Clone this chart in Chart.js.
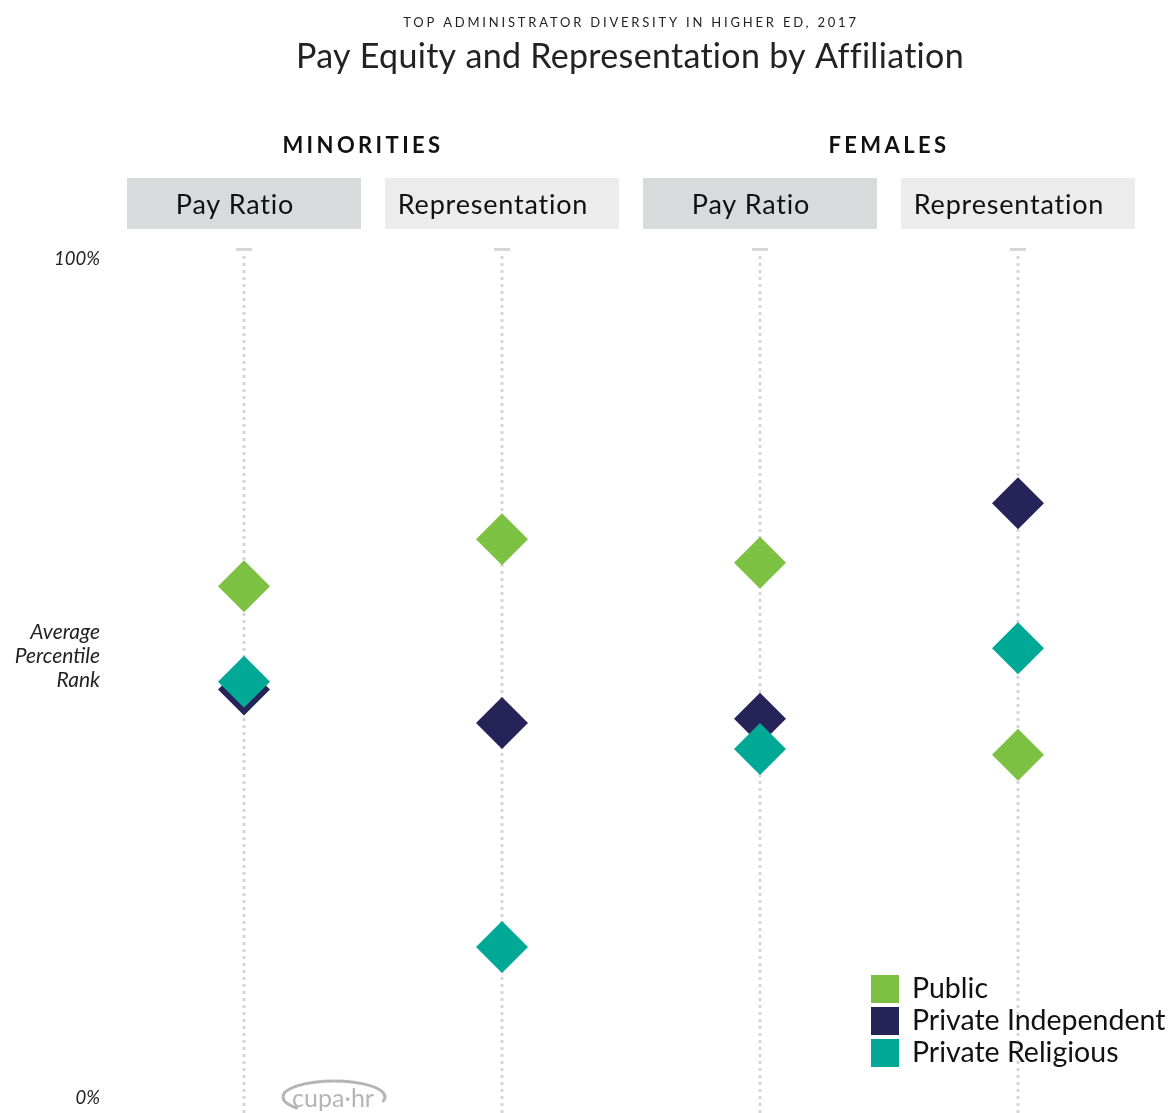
<!DOCTYPE html>
<html>
<head>
<meta charset="utf-8">
<script src="https://cdn.jsdelivr.net/npm/chart.js@4.4.1/dist/chart.umd.min.js"></script>
<style>
  html, body { margin: 0; padding: 0; background: #fff; }
  #wrap { width: 1171px; height: 1113px; position: relative; }
</style>
</head>
<body>
<div id="wrap"><canvas id="chart" width="1171" height="1113"></canvas></div>
<script>
// chart values
const groups = ["MINORITIES", "FEMALES"];
const categories = ["Pay Ratio", "Representation", "Pay Ratio", "Representation"];
const seriesNames = ["Public", "Private Independent", "Private Religious"];
const publicValues = [61.0, 66.6, 63.8, 40.9];
const independentValues = [48.7, 44.7, 45.2, 70.9];
const religiousValues = [49.6, 18.0, 41.6, 53.6];
const yTicks = [0, 100];

const colors = ["#7dc142", "#262359", "#00a896"];
const boxColors = ["#d9dadc", "#ececec"];
const FONT = "Lato, 'Open Sans', sans-serif";

function makeSet(i, values, order) {
  return {
    label: seriesNames[i],
    data: values,
    backgroundColor: colors[i],
    borderColor: colors[i],
    borderWidth: 0,
    showLine: false,
    pointStyle: "rectRot",
    pointRadius: 26,
    pointHoverRadius: 26,
    order: order
  };
}

// draws the headings, column boxes, dotted guides and legend
const decor = {
  id: "decor",
  beforeDatasetsDraw(chart) {
    const ctx = chart.ctx;
    const x = chart.scales.x;
    ctx.save();
    for (let i = 0; i < categories.length; i++) {
      let px = x.getPixelForValue(i);
      ctx.fillStyle = "#d6d6d6";
      ctx.fillRect(px - 8, 248, 16, 3);
      ctx.strokeStyle = "#d6d6d6";
      ctx.lineWidth = 3;
      ctx.setLineDash([3, 4]);
      ctx.beginPath();
      ctx.moveTo(px, 256);
      ctx.lineTo(px, chart.height);
      ctx.stroke();
    }
    ctx.restore();
  },
  afterDraw(chart) {
    const ctx = chart.ctx;
    const x = chart.scales.x;
    ctx.save();
    ctx.textAlign = "center";
    ctx.textBaseline = "middle";
    ctx.fillStyle = "#222";

    // headings
    ctx.letterSpacing = "2.8px";
    ctx.font = "13px " + FONT;
    ctx.fillText("TOP ADMINISTRATOR DIVERSITY IN HIGHER ED, 2017", 631, 23);
    ctx.letterSpacing = "0.3px";
    ctx.font = "34px " + FONT;
    ctx.fillText("Pay Equity and Representation by Affiliation", 630, 57);

    // group labels
    ctx.letterSpacing = "3.4px";
    ctx.font = "bold 22px " + FONT;
    ctx.fillStyle = "#111";
    for (let g = 0; g < groups.length; g++) {
      let mid = (x.getPixelForValue(g * 2) + x.getPixelForValue(g * 2 + 1)) / 2;
      ctx.fillText(groups[g], mid - (g === 0 ? 10 : 0), 146);
    }

    // column boxes
    ctx.letterSpacing = "0.8px";
    ctx.font = "27px " + FONT;
    for (let i = 0; i < categories.length; i++) {
      let px = x.getPixelForValue(i);
      ctx.fillStyle = boxColors[i % 2];
      ctx.fillRect(px - 117, 178, 234, 51);
      ctx.fillStyle = "#111";
      ctx.fillText(categories[i], px - 9, 205);
    }
    ctx.letterSpacing = "0px";

    // y axis caption
    ctx.textAlign = "right";
    ctx.fillStyle = "#222";
    ctx.font = "italic 21px " + FONT;
    const cap = ["Average", "Percentile", "Rank"];
    for (let k = 0; k < cap.length; k++) {
      ctx.fillText(cap[k], 100, 632 + k * 24);
    }

    // legend
    ctx.textAlign = "left";
    ctx.font = "28.5px " + FONT;
    chart.data.datasets.forEach((ds, k) => {
      let top = 975 + k * 32;
      ctx.fillStyle = ds.backgroundColor;
      ctx.fillRect(871, top, 28, 28);
      ctx.fillStyle = "#111";
      ctx.fillText(ds.label, 912, top + 14);
    });

    // cupa-hr mark
    ctx.textAlign = "center";
    ctx.fillStyle = "#b5b5b5";
    ctx.font = "25px " + FONT;
    ctx.fillText("cupa\u00b7hr", 333, 1099);
    ctx.strokeStyle = "#b5b5b5";
    ctx.lineWidth = 3;
    ctx.beginPath();
    ctx.ellipse(334, 1097, 51, 16, 0, Math.PI * 0.75, Math.PI * 2.1);
    ctx.stroke();
    ctx.restore();
  }
};

new Chart(document.getElementById("chart"), {
  type: "line",
  data: {
    labels: categories,
    datasets: [
      makeSet(0, publicValues, 1),
      makeSet(1, independentValues, 2),
      makeSet(2, religiousValues, 0)
    ]
  },
  options: {
    responsive: false,
    animation: false,
    clip: false,
    layout: { autoPadding: false, padding: { top: 259, bottom: 15, right: 24, left: 0 } },
    plugins: {
      legend: { display: false },
      title: { display: false },
      tooltip: { enabled: false }
    },
    scales: {
      x: {
        type: "category",
        offset: true,
        display: false
      },
      y: {
        min: 0,
        max: 100,
        afterBuildTicks: (scale) => { scale.ticks = yTicks.map(v => ({ value: v })); },
        afterFit: (scale) => { scale.width = 115; scale.paddingTop = 0; scale.paddingBottom = 0; },
        grid: { display: false, drawTicks: false },
        border: { display: false },
        ticks: {
          padding: 15,
          color: "#222",
          font: { family: FONT, size: 18.5, style: "italic" },
          callback: (v) => v + "%"
        }
      }
    }
  },
  plugins: [decor]
});
</script>
</body>
</html>
